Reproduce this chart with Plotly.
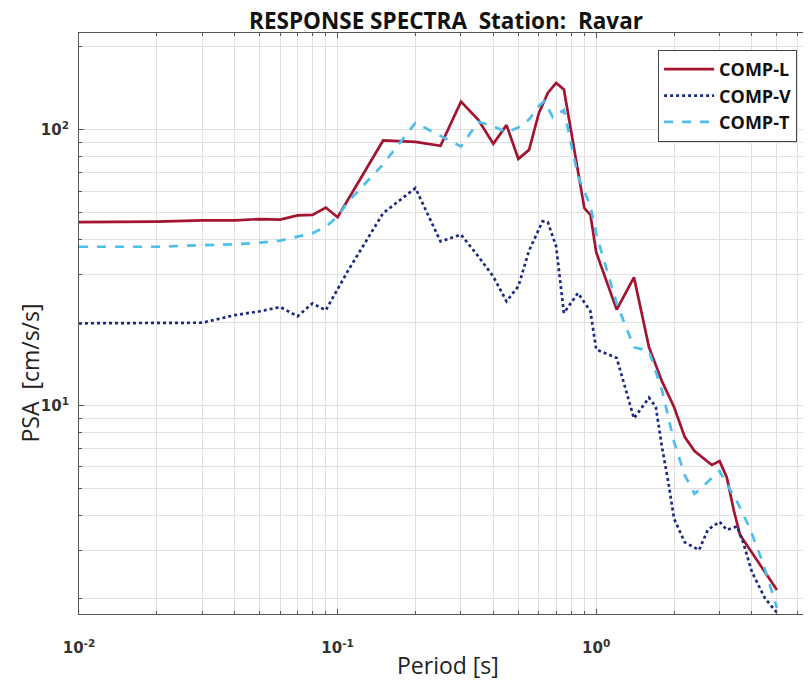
import plotly.graph_objects as go

# ---- data ----
period_L = [0.01, 0.02, 0.03, 0.04, 0.05, 0.06, 0.07, 0.08, 0.09, 0.10, 0.15, 0.20, 0.25, 0.30,
            0.35, 0.40, 0.45, 0.50, 0.55, 0.60, 0.65, 0.70, 0.75, 0.85, 0.90, 0.95, 1.00, 1.20,
            1.40, 1.60, 1.80, 2.00, 2.20, 2.40, 2.80, 3.00, 3.20, 3.40, 3.60, 5.00]
psa_L = [46.3, 46.5, 47.0, 47.0, 47.5, 47.3, 49.0, 49.2, 52.3, 48.2, 91.5, 90.5, 87.5, 126.5,
         108.7, 89.0, 104.0, 78.5, 84.6, 115.0, 136.0, 148.0, 140.0, 72.0, 52.0, 49.2, 36.0, 22.3,
         29.2, 16.3, 12.2, 9.9, 7.7, 6.85, 6.1, 6.3, 5.5, 4.2, 3.4, 2.15]

period_V = [0.01, 0.02, 0.03, 0.04, 0.05, 0.06, 0.07, 0.08, 0.09, 0.11, 0.15, 0.20, 0.25, 0.30,
            0.35, 0.40, 0.45, 0.50, 0.55, 0.62, 0.65, 0.70, 0.75, 0.85, 0.95, 1.00, 1.20, 1.40,
            1.60, 1.70, 1.80, 1.90, 2.00, 2.20, 2.50, 2.70, 3.00, 3.20, 3.50, 3.70, 4.00, 4.50, 5.00]
psa_V = [19.9, 19.9, 20.0, 21.3, 22.0, 22.8, 21.1, 23.5, 22.2, 31.0, 49.9, 61.5, 39.4, 41.7,
         34.8, 29.4, 23.9, 27.1, 36.5, 46.6, 46.3, 37.8, 21.7, 25.6, 22.0, 16.0, 14.9, 9.0,
         10.7, 9.9, 7.0, 5.3, 3.9, 3.2, 3.0, 3.55, 3.8, 3.55, 3.65, 3.2, 2.5, 2.0, 1.78]

period_T = [0.01, 0.02, 0.03, 0.04, 0.05, 0.06, 0.07, 0.08, 0.09, 0.10, 0.11, 0.15, 0.20, 0.25,
            0.30, 0.35, 0.40, 0.45, 0.50, 0.55, 0.60, 0.63, 0.68, 0.75, 0.81, 0.85, 0.95, 1.00,
            1.10, 1.20, 1.40, 1.60, 1.80, 2.00, 2.20, 2.40, 2.70, 3.00, 3.20, 3.50, 3.90, 4.40, 5.00]
psa_T = [37.7, 37.7, 38.2, 38.5, 39.0, 39.7, 41.0, 42.2, 44.5, 48.5, 55.0, 75.0, 106.0, 95.0,
         87.0, 107.0, 103.0, 98.0, 102.0, 109.0, 122.0, 127.0, 111.0, 118.0, 85.0, 68.0, 53.0, 42.0,
         31.0, 23.5, 16.3, 15.8, 11.3, 7.4, 5.6, 4.8, 5.3, 5.8, 5.2, 4.5, 3.65, 2.72, 1.85]

x_tickvals = [0.01, 0.1, 1]
x_ticktext = ["10<sup>-2</sup>", "10<sup>-1</sup>", "10<sup>0</sup>"]
y_tickvals = [10, 100]
y_ticktext = ["10<sup>1</sup>", "10<sup>2</sup>"]

x_minor = [m * 10 ** e for e in (-2, -1, 0) for m in range(2, 10)]
y_minor = [m * 10 ** e for e in (0, 1, 2) for m in range(2, 10)]

fig = go.Figure()
fig.add_trace(go.Scatter(x=period_L, y=psa_L, mode="lines", name="COMP-L",
                         line=dict(color="#A2142F", width=2.7)))
fig.add_trace(go.Scatter(x=period_V, y=psa_V, mode="lines", name="COMP-V",
                         line=dict(color="#1B2A80", width=2.7, dash="dot")))
fig.add_trace(go.Scatter(x=period_T, y=psa_T, mode="lines", name="COMP-T",
                         line=dict(color="#4DBEEE", width=2.7, dash="dash")))

axis_common = dict(
    showline=True, linecolor="#555555", linewidth=1, mirror="ticks",
    ticks="inside", ticklen=5, tickcolor="#555555",
    showgrid=True, gridcolor="#E0E0E0", gridwidth=1, zeroline=False,
    automargin=False,
)
tick_font = dict(family="DejaVu Sans", size=15, color="#333333", weight="bold")
label_font = dict(family="Open Sans", size=23, color="#222222")

fig.update_xaxes(
    type="log", range=[-2, 0.8306],
    tickmode="array", tickvals=x_tickvals, ticktext=x_ticktext,
    tickfont=tick_font, ticklabelstandoff=20,
    minor=dict(tickmode="array", tickvals=x_minor, ticks="inside", ticklen=3,
               tickcolor="#555555", showgrid=True, gridcolor="#E0E0E0", gridwidth=1),
    **axis_common,
)
fig.update_yaxes(
    type="log", range=[0.2453, 2.351],
    tickmode="array", tickvals=y_tickvals, ticktext=y_ticktext,
    tickfont=tick_font, ticklabelstandoff=6,
    minor=dict(tickmode="array", tickvals=y_minor, ticks="inside", ticklen=3,
               tickcolor="#555555", showgrid=True, gridcolor="#E0E0E0", gridwidth=1),
    **axis_common,
)

# axis titles placed as annotations for exact positioning
fig.add_annotation(text="Period [s]", xref="paper", yref="paper", x=0.504, y=-0.087,
                   xanchor="center", yanchor="middle", showarrow=False, font=label_font)
fig.add_annotation(text="PSA  [cm/s/s]", xref="paper", yref="paper", x=-0.0674, y=0.415,
                   xanchor="center", yanchor="middle", textangle=-90, showarrow=False,
                   font=label_font)

# the page body adds an 8px margin, so the figure is sized to fit the 811x683 window
fig.update_layout(
    width=803, height=675,
    margin=dict(l=71.3, r=0, t=25, b=68.7),
    paper_bgcolor="white", plot_bgcolor="white",
    title=dict(text="<b>RESPONSE SPECTRA  Station:  Ravar</b>",
               font=dict(family="Open Sans", size=22.5, color="#111111"),
               x=0.5455, xanchor="center", y=1.0, yanchor="top",
               pad=dict(t=5, b=0, l=0, r=0)),
    legend=dict(x=0.981, y=0.9708, xanchor="right", yanchor="top",
                bgcolor="white", bordercolor="#444444", borderwidth=1,
                font=dict(family="Open Sans", size=18, color="#111111", weight="bold"),
                itemwidth=50, tracegroupgap=0),
    showlegend=True,
)

fig.write_html("out.html")
